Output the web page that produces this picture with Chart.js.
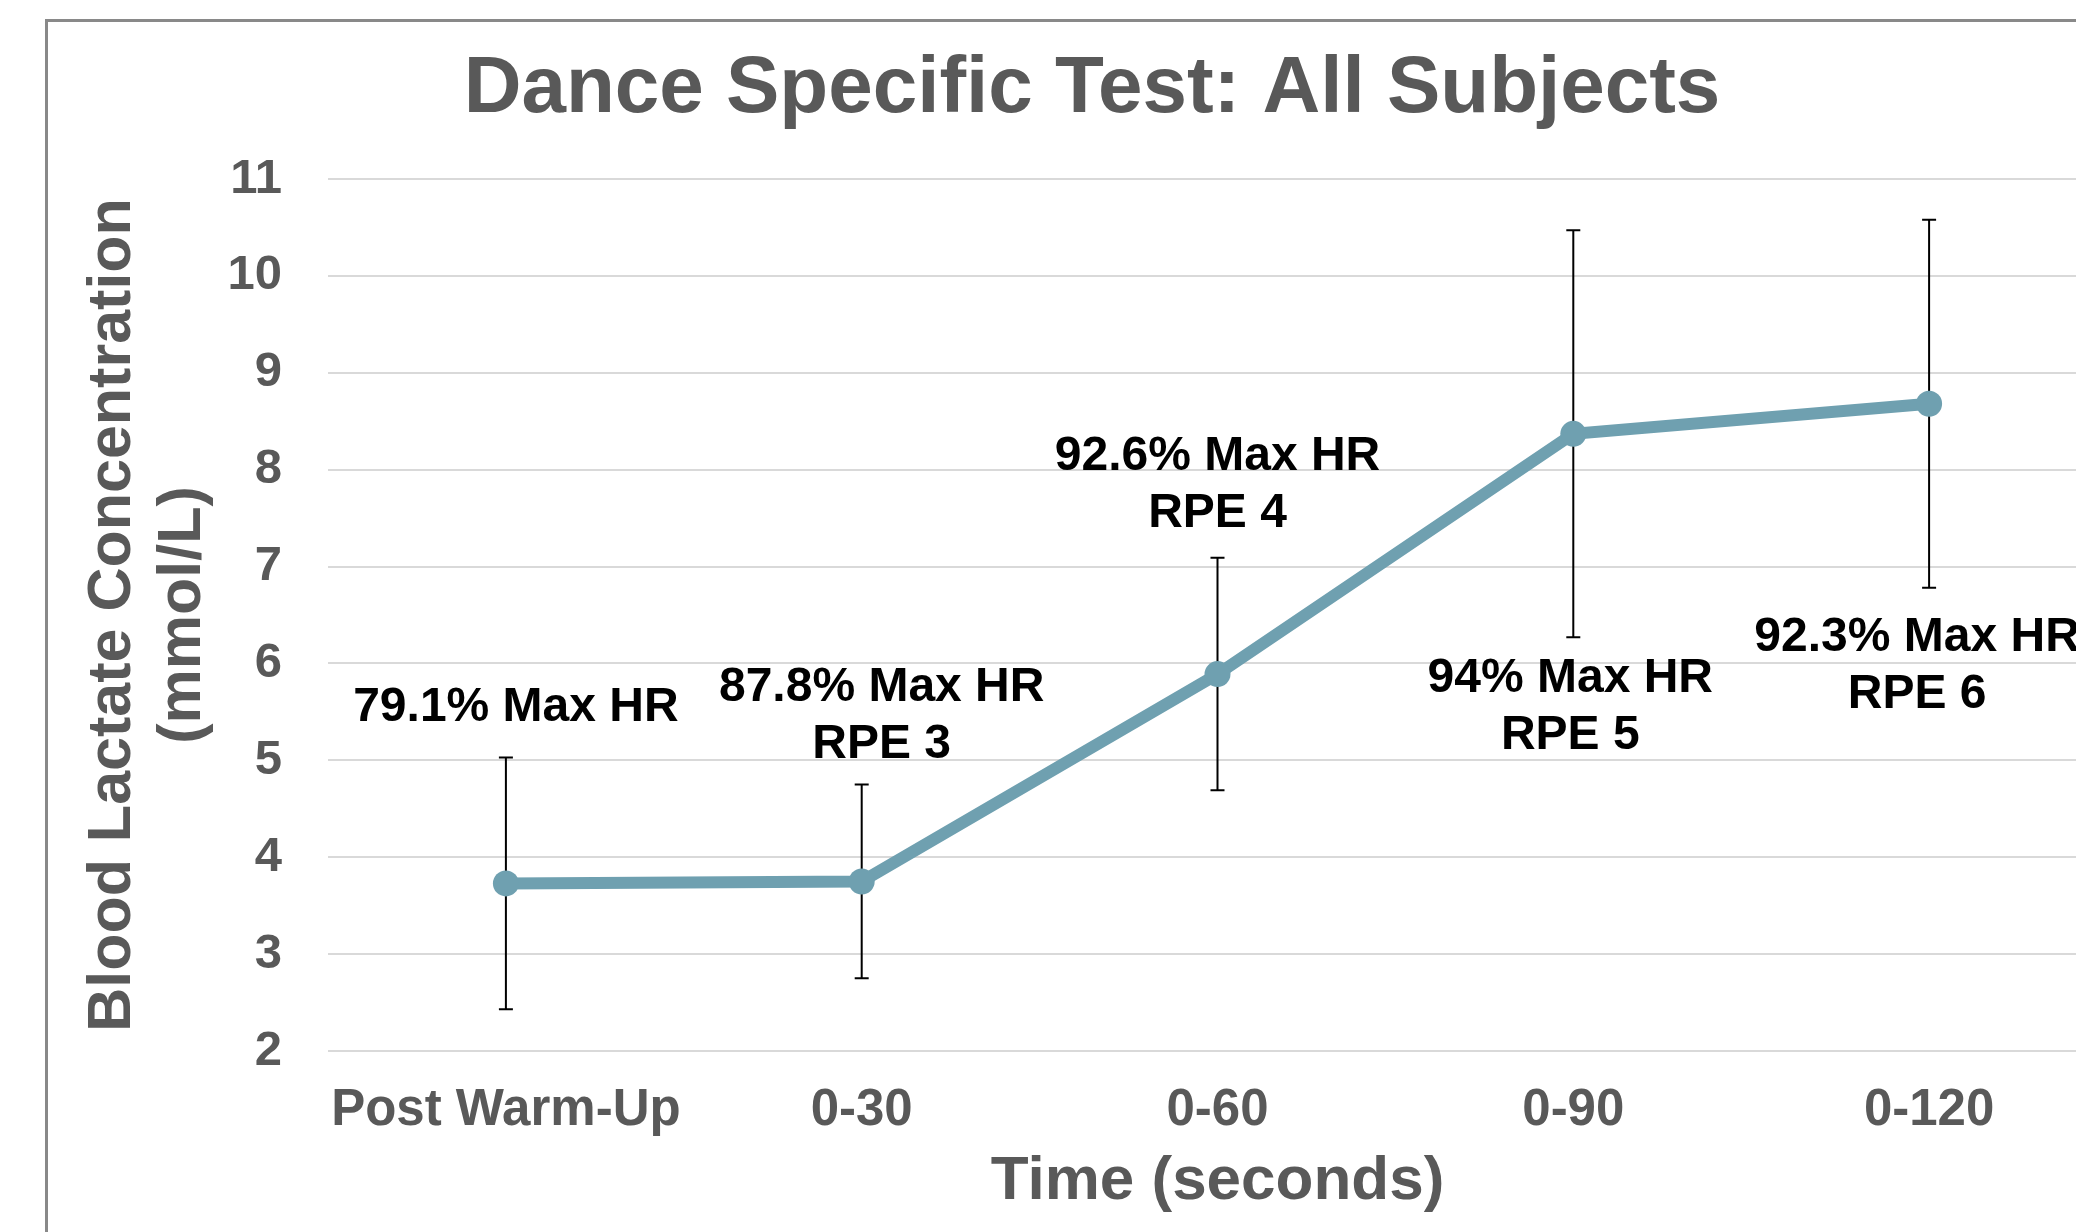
<!DOCTYPE html>
<html>
<head>
<meta charset="utf-8">
<title>Dance Specific Test: All Subjects</title>
<script src="https://cdn.jsdelivr.net/npm/chart.js@4.4.1/dist/chart.umd.min.js"></script>
<style>
  html, body { margin: 0; padding: 0; background: #fff; overflow: hidden; }
  #page { position: relative; width: 2076px; height: 1232px; overflow: hidden; }
  #frame { position: absolute; left: 45px; top: 19px; width: 2200px; height: 1400px;
           border: 3px solid #898989; }
  #wrap { position: absolute; left: 0; top: 0; width: 2184px; height: 1232px; }
</style>
</head>
<body>
<div id="page">
  <div id="frame"></div>
  <div id="wrap"><canvas id="detailChart"></canvas></div>
</div>
<script>
// categories and values
var categories = ['Post Warm-Up', '0-30', '0-60', '0-90', '0-120'];
var lactate = [3.73, 3.75, 5.89, 8.37, 8.68];     // mean, mmol/L
var lactateSd = [1.3, 1.0, 1.2, 2.1, 1.9];        // error bar half length
var hrLabels = ['79.1% Max HR', '87.8% Max HR', '92.6% Max HR', '94% Max HR', '92.3% Max HR'];
var rpeLabels = ['', 'RPE 3', 'RPE 4', 'RPE 5', 'RPE 6'];
var yTicks = [2, 3, 4, 5, 6, 7, 8, 9, 10, 11];

// where each text block sits, in y units, and a small x nudge in px
var labelAt = [5.54, 5.45, 7.84, 5.55, 5.97];
var labelDx = [10, 20, 0, -3, -12];

var FONT = '"Liberation Sans", Arial, sans-serif';
var GREY = '#595959';
var LINE = '#6fa0b0';

var errorBars = {
    id: 'errorBars',
    beforeDatasetsDraw: function (chart) {
        var ctx = chart.ctx, x = chart.scales.x, y = chart.scales.y;
        ctx.save();
        ctx.strokeStyle = '#000';
        ctx.lineWidth = 2;
        lactate.forEach(function (m, i) {
            var px = x.getPixelForValue(i);
            var top = y.getPixelForValue(m + lactateSd[i]);
            var bot = y.getPixelForValue(m - lactateSd[i]);
            ctx.beginPath();
            ctx.moveTo(px, top); ctx.lineTo(px, bot);
            ctx.moveTo(px - 7, top); ctx.lineTo(px + 7, top);
            ctx.moveTo(px - 7, bot); ctx.lineTo(px + 7, bot);
            ctx.stroke();
        });
        ctx.restore();
    }
};

var hrText = {
    id: 'hrText',
    afterDatasetsDraw: function (chart) {
        var ctx = chart.ctx, x = chart.scales.x, y = chart.scales.y;
        ctx.save();
        ctx.fillStyle = '#000';
        ctx.font = 'bold 48px ' + FONT;
        ctx.textAlign = 'center';
        ctx.textBaseline = 'middle';
        hrLabels.forEach(function (t, i) {
            var px = x.getPixelForValue(i) + labelDx[i];
            var cy = y.getPixelForValue(labelAt[i]);
            if (rpeLabels[i]) {
                ctx.fillText(t, px, cy - 28.5);
                ctx.fillText(rpeLabels[i], px, cy + 28.5);
            } else {
                ctx.fillText(t, px, cy);
            }
        });
        ctx.restore();
    }
};

var ctx = document.getElementById('detailChart');
var detail = new Chart(ctx, {
    type: 'line',
    data: {
        labels: categories,
        datasets: [{
            data: lactate,
            borderColor: LINE,
            backgroundColor: LINE,
            borderWidth: 12,
            pointRadius: 13,
            pointBorderWidth: 0,
            pointBackgroundColor: LINE,
            tension: 0,
            fill: false
        }]
    },
    options: {
        responsive: true,
        maintainAspectRatio: false,
        animation: false,
        devicePixelRatio: 1,
        layout: { padding: { left: 77, right: 77, top: 0, bottom: 0 } },
        plugins: {
            legend: { display: false },
            tooltip: { enabled: false },
            title: {
                display: true,
                text: 'Dance Specific Test: All Subjects',
                color: GREY,
                font: { family: FONT, size: 80, weight: 'bold', lineHeight: 1.2 },
                padding: { top: 42, bottom: 41 }
            }
        },
        scales: {
            x: {
                offset: true,
                grid: { display: false, drawTicks: false },
                border: { display: false },
                ticks: {
                    color: GREY,
                    padding: 29,
                    maxRotation: 0,
                    font: { family: FONT, size: 51, weight: 'bold', lineHeight: 1.2 }
                },
                title: {
                    display: true,
                    text: 'Time (seconds)',
                    color: GREY,
                    font: { family: FONT, size: 62, weight: 'bold', lineHeight: 1.2 },
                    padding: { top: 0, bottom: 13 }
                },
                afterFit: function (s) { s.height = 181; }
            },
            y: {
                min: 2,
                max: 11,
                afterBuildTicks: function (s) {
                    s.ticks = yTicks.map(function (v) { return { value: v }; });
                },
                grid: { color: '#d9d9d9', lineWidth: 2, drawTicks: false },
                border: { display: false },
                ticks: {
                    color: GREY,
                    padding: 46,
                    font: { family: FONT, size: 49, weight: 'bold' }
                },
                title: {
                    display: true,
                    text: ['Blood Lactate Concentration', '(mmol/L)'],
                    color: GREY,
                    font: { family: FONT, size: 61, weight: 'bold', lineHeight: 1.15 },
                    padding: { top: 1, bottom: 0 }
                },
                afterFit: function (s) { s.width = 251; }
            }
        }
    },
    plugins: [errorBars, hrText]
});
</script>
</body>
</html>
